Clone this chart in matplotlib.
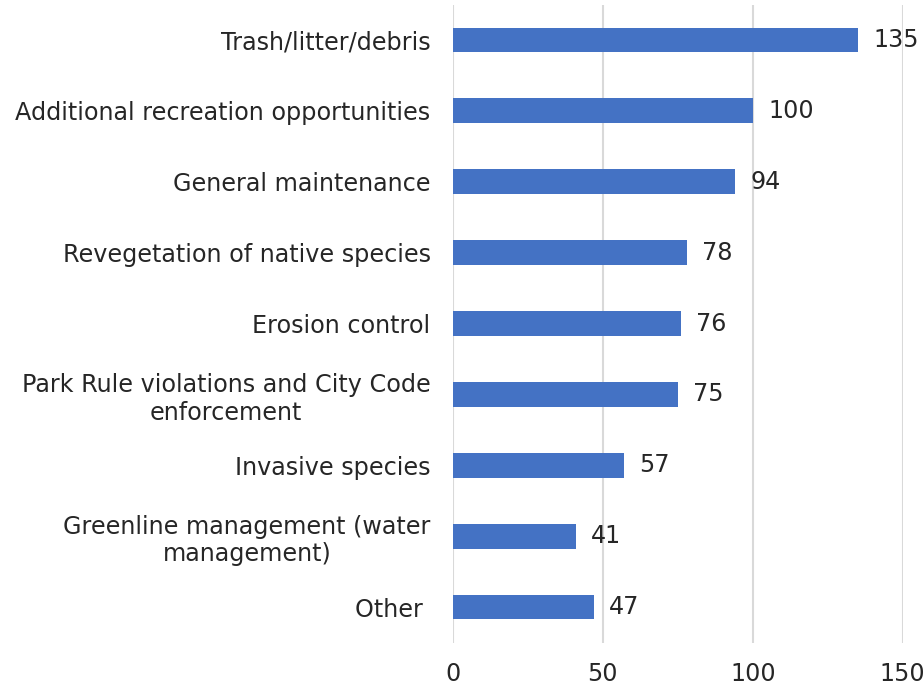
import matplotlib
matplotlib.use("Agg")
import matplotlib.pyplot as plt

categories = ["Trash/litter/debris", "Additional recreation opportunities",
              "General maintenance", "Revegetation of native species",
              "Erosion control", "Park Rule violations and City Code\nenforcement",
              "Invasive species", "Greenline management (water\nmanagement)", "Other "]
counts = [135, 100, 94, 78, 76, 75, 57, 41, 47]
xticks = [0, 50, 100, 150]

plt.rcParams['font.family'] = ['DejaVu Sans']
fig = plt.figure(figsize=(9.24, 6.86), dpi=100)
ax = fig.add_axes([0.490, 0.0634, 0.487, 0.930])

y = list(range(len(categories)))
bars = ax.barh(y, counts, height=0.35, color="#4472C4", zorder=3)
ax.set_ylim(len(categories) - 0.5, -0.5)
ax.set_xlim(0, 150)
ax.set_xticks(xticks)
ax.set_yticks(y)
ax.set_yticklabels(categories, fontsize=17.2, color="#262626", multialignment="center",
                   linespacing=1.2)
ax.tick_params(axis="x", labelsize=17.2, labelcolor="#262626", length=0, pad=14)
ax.tick_params(axis="y", length=0, pad=16)

for b, v in zip(bars, counts):
    ax.annotate(str(v), (v, b.get_y() + b.get_height() / 2), xytext=(11, 0),
                textcoords="offset points", va="center", ha="left",
                fontsize=17.2, color="#262626")

ax.grid(axis="x", color="#D9D9D9", linewidth=1.5, zorder=0)
for s in ax.spines.values():
    s.set_visible(False)

fig.savefig("out.png", dpi=100)
